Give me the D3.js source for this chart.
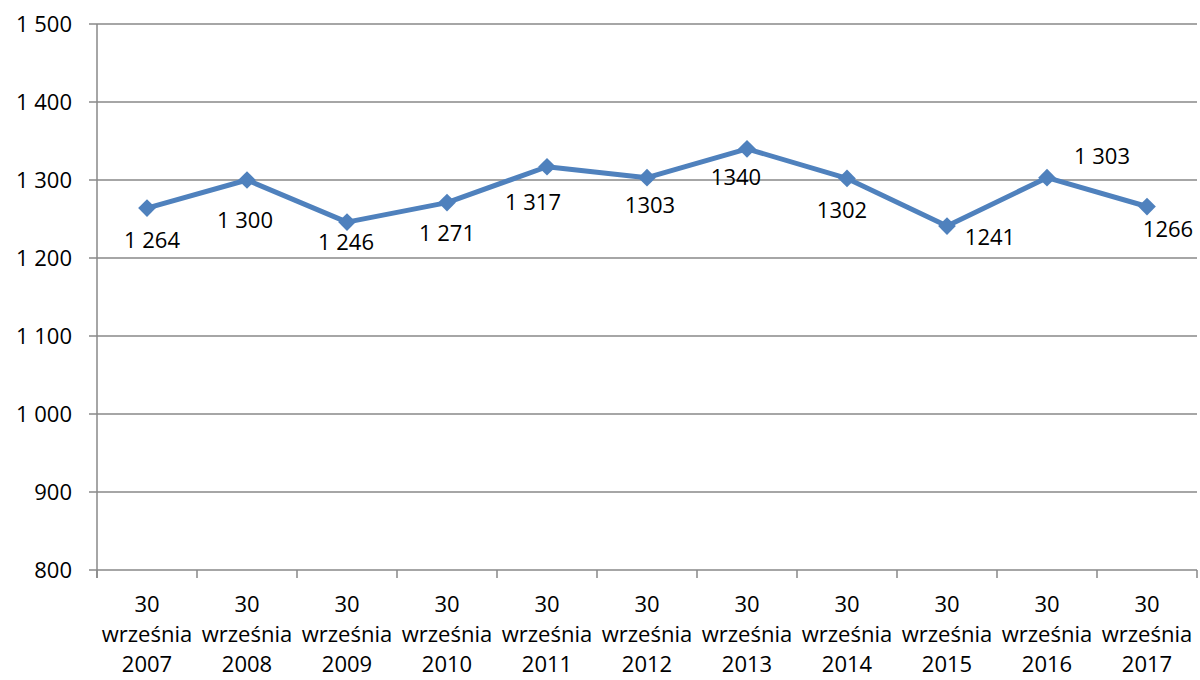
<!DOCTYPE html>
<html><head><meta charset="utf-8">
<script src="https://cdn.jsdelivr.net/npm/d3@7"></script>
<style>body{margin:0;background:#fff}svg{display:block}text{font-family:"Open Sans",Lato,sans-serif;fill:#000}</style>
</head><body><svg id="c" width="1200" height="680"></svg>
<script>
const categories = ["2007","2008","2009","2010","2011","2012","2013","2014","2015","2016","2017"];
const values = [1264,1300,1246,1271,1317,1303,1340,1302,1241,1303,1266];
const valueLabels = ["1 264","1 300","1 246","1 271","1 317","1303","1340","1302","1241","1 303","1266"];
const yTicks = [800,900,1000,1100,1200,1300,1400,1500];
const yTickLabels = ["800","900","1 000","1 100","1 200","1 300","1 400","1 500"];
// label offsets (layout, not data)
const labelOffsets = [[5,32],[-2,40],[-1,20],[0,31],[-14,36],[3,28],[-11,28],[-5,32],[43,11],[55,-21],[21,23]];

const svg = d3.select("#c");
const L = 97, R = 1197, T = 24, B = 570;
const FS = 22;
const x = d3.scaleBand().domain(categories).range([L, R]);
const y = d3.scaleLinear().domain([800,1500]).range([B, T]);
const grid = "#888";

svg.append("g").selectAll("line").data(yTicks).join("line")
  .attr("x1", L-8).attr("x2", R).attr("y1", d=>y(d)).attr("y2", d=>y(d))
  .attr("stroke", grid).attr("stroke-width", 1.5);
svg.append("line").attr("x1", L).attr("x2", L).attr("y1", T).attr("y2", B+8).attr("stroke", grid).attr("stroke-width",1.5);
const tickX = categories.map(c=>x(c)).concat([R]);
svg.append("g").selectAll("line").data(tickX).join("line")
  .attr("x1", d=>d).attr("x2", d=>d).attr("y1", B).attr("y2", B+8).attr("stroke", grid).attr("stroke-width",1.5);

svg.append("g").selectAll("text").data(yTicks).join("text")
  .attr("x", 72).attr("y", d=>y(d)).attr("dy","0.35em").attr("text-anchor","end")
  .attr("font-size", FS).text((d,i)=>yTickLabels[i]);

const xl = svg.append("g").selectAll("text").data(categories).join("text")
  .attr("text-anchor","middle").attr("font-size",FS)
  .attr("transform", d=>`translate(${x(d)+x.bandwidth()/2},0)`);
xl.append("tspan").attr("x",0).attr("y",612).text("30");
xl.append("tspan").attr("x",0).attr("y",642).text("września");
xl.append("tspan").attr("x",0).attr("y",672).text(d=>d);

const cx = (d,i)=>x(categories[i])+x.bandwidth()/2;
svg.append("path").datum(values)
  .attr("d", d3.line().x(cx).y(d=>y(d)))
  .attr("fill","none").attr("stroke","#4F81BD").attr("stroke-width",5).attr("stroke-linejoin","round");
svg.append("g").selectAll("path").data(values).join("path")
  .attr("d", d3.symbol(d3.symbolDiamond2, 200))
  .attr("transform",(d,i)=>`translate(${cx(d,i)},${y(d)})`)
  .attr("fill","#4F81BD");

svg.append("g").selectAll("text").data(values).join("text")
  .attr("x",(d,i)=>cx(d,i)+labelOffsets[i][0]).attr("y",(d,i)=>y(d)+labelOffsets[i][1])
  .attr("dy","0.35em").attr("text-anchor","middle").attr("font-size",FS)
  .text((d,i)=>valueLabels[i]);
</script></body></html>
